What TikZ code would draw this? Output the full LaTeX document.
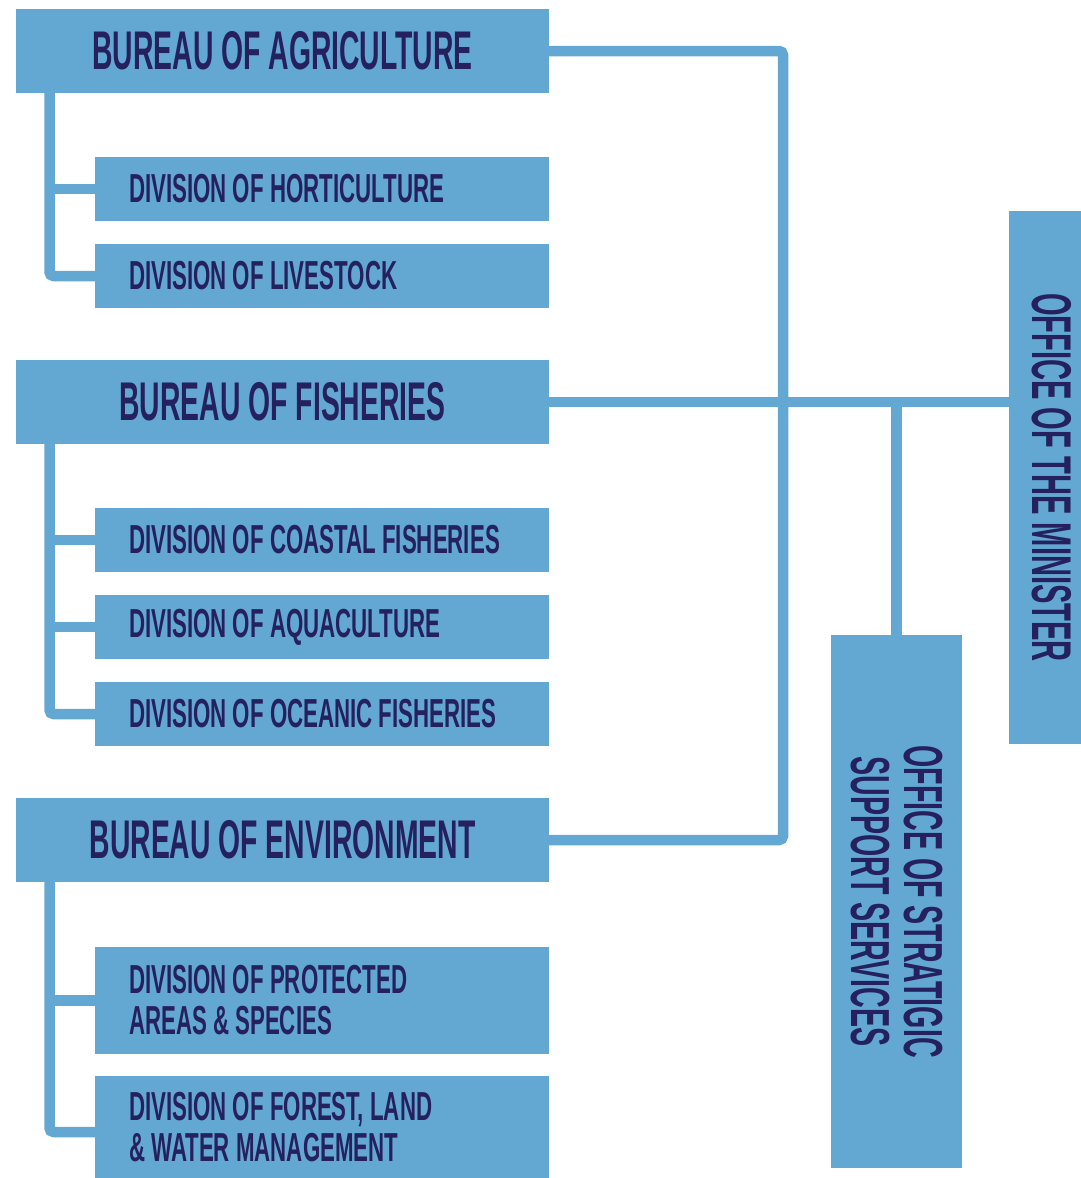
\documentclass[tikz,border=0pt]{standalone}
\usepackage{fontspec}
\newfontfamily\headfont{Liberation Sans}[FakeStretch=0.52]
\newfontfamily\divfont{Liberation Sans}[FakeStretch=0.55]
\usetikzlibrary{backgrounds,calc}
\definecolor{boxblue}{RGB}{98,168,210}
\definecolor{inkblue}{RGB}{37,33,95}
\begin{document}
\begin{tikzpicture}[x=1pt,y=-1pt,
  unit/.style={fill=boxblue, text=inkblue, inner sep=0pt, outer sep=0pt},
  bureau/.style={unit, anchor=north west, minimum width=533pt, minimum height=84pt,
    font=\headfont\bfseries\fontsize{54.5}{56}\selectfont},
  division/.style={unit, anchor=north west, inner xsep=34pt, text width=386pt,
    align=flush left, minimum height=#1, font=\divfont\bfseries\fontsize{40.5}{41}\selectfont},
  division/.default=64pt,
  office/.style={unit, rotate=-90, minimum width=533pt, align=center},
  link/.style={draw=boxblue, line width=10.5pt, rounded corners=4pt}]
\useasboundingbox (0,0) rectangle (1080,1178);

% bureaus and their divisions
\node[bureau] (agr) at (16,9) {BUREAU OF AGRICULTURE};
\node[division] (hor) at (95,157) {DIVISION OF HORTICULTURE};
\node[division] (liv) at (95,244) {DIVISION OF LIVESTOCK};

\node[bureau] (fis) at (16,360) {BUREAU OF FISHERIES};
\node[division] (coa) at (95,508) {DIVISION OF COASTAL FISHERIES};
\node[division] (aqu) at (95,595) {DIVISION OF AQUACULTURE};
\node[division] (oce) at (95,682) {DIVISION OF OCEANIC FISHERIES};

\node[bureau] (env) at (16,798) {BUREAU OF ENVIRONMENT};
\node[division=107pt] (pro) at (95,947) {DIVISION OF PROTECTED\\AREAS \& SPECIES};
\node[division=102pt] (for) at (95,1076) {DIVISION OF FOREST, LAND\\\& WATER MANAGEMENT};

% offices, set vertically
\node[office, minimum height=72pt, text depth=15pt,
  font=\headfont\bfseries\fontsize{56}{56}\selectfont]
  (min) at (1044.5,477.5) {OFFICE OF THE MINISTER};
\node[office, minimum height=131pt, font=\headfont\bfseries\fontsize{55}{53}\selectfont]
  (sos) at (896.5,901.5) {OFFICE OF STRATIGIC\\SUPPORT SERVICES};

% connectors, drawn beneath the boxes
\begin{scope}[on background layer]
  \coordinate (spine) at ($(agr.east)+(234,0)$);
  \draw[link] (agr.east) -- (spine) -- (spine |- env.east) -- (env.east);
  \draw[link, rounded corners=0pt] (fis.east) -- (fis.east -| min.center);
  \draw[link, rounded corners=0pt] (fis.east -| sos.center) -- (sos.center);

  \coordinate (railA) at ($(agr.south west)+(33.5,0)$);
  \draw[link] (railA) |- (liv.west);
  \draw[link] (hor.west) -- (hor.west -| railA);

  \coordinate (railF) at ($(fis.south west)+(33.5,0)$);
  \draw[link] (railF) |- (oce.west);
  \draw[link] (coa.west) -- (coa.west -| railF);
  \draw[link] (aqu.west) -- (aqu.west -| railF);

  \coordinate (railE) at ($(env.south west)+(33.5,0)$);
  \draw[link] (railE) |- ($(for.west)+(0,5)$);
  \draw[link] (pro.west) -- (pro.west -| railE);
\end{scope}
\end{tikzpicture}
\end{document}
